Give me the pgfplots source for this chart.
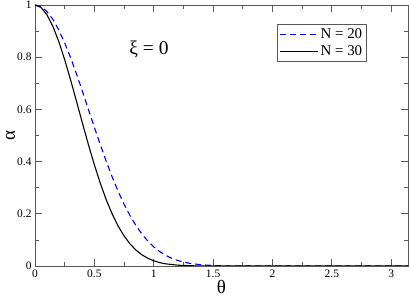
\documentclass[border=0pt]{standalone}
\usepackage{pgfplots}
\pgfplotsset{compat=1.18}
\usepackage{fontspec}
\setmainfont{Liberation Serif}
\definecolor{framegray}{gray}{0.35}
\begin{document}
\begin{tikzpicture}
\begin{axis}[
  name=ax,
  scale only axis,
  width=373bp, height=261bp,
  xmin=0, xmax=3.1416, ymin=0, ymax=1,
  xtick={0,0.5,1,1.5,2,2.5,3},
  xticklabels={0,0.5,1,1.5,2,2.5,3},
  ytick={0,0.2,0.4,0.6,0.8,1},
  yticklabels={0,0.2,0.4,0.6,0.8,1},
  minor x tick num=1, minor y tick num=1,
  major tick length=7bp, minor tick length=4bp,
  tick style={framegray, line width=0.8pt},
  axis line style={framegray, line width=0.9pt},
  tick label style={font=\fontsize{11.5}{13}\selectfont, text=black},
  /pgf/number format/assume math mode=true,
  xlabel={θ}, ylabel={α},
  xlabel style={font=\fontsize{19}{21}\selectfont, at={(axis description cs:0.5,-0.081)}, anchor=center},
  ylabel style={font=\fontsize{19}{21}\selectfont, at={(axis description cs:-0.066,0.5)}, anchor=center},
  legend style={at={(axis description cs:0.649,0.927)}, anchor=north west,
    draw=framegray, line width=0.8pt, font=\fontsize{15}{17}\selectfont,
    inner xsep=2bp, inner ysep=2.5bp, row sep=1bp,
    /tikz/every even column/.append style={column sep=5bp}},
  legend cell align=left,
  legend image code/.code={\draw[#1] (0bp,0bp) -- (38bp,0bp);},
]
\addplot[color=blue, draw=blue, line width=1.1pt, dash pattern=on 6bp off 4bp] coordinates {
(0,1) (0.05,0.99377) (0.1,0.97529) (0.15,0.94526) (0.2,0.90468) (0.25,0.85500)
(0.3,0.79782) (0.35,0.73503) (0.4,0.66850) (0.45,0.60014) (0.5,0.53174)
(0.55,0.46488) (0.6,0.40098) (0.65,0.34116) (0.7,0.28626) (0.75,0.23683)
(0.8,0.19309) (0.85,0.15516) (0.9,0.12277) (0.95,0.09568) (1.0,0.07340)
(1.05,0.0552) (1.1,0.04113) (1.15,0.0299) (1.2,0.02151) (1.25,0.0151) (1.3,0.01045)
(1.4,0.00469) (1.5,0.00193) (1.6,0.00073) (1.8,0.00007) (2.0,0) (2.5,0) (3.1416,0)
};
\addlegendentry{N = 20}
\addplot[color=black, draw=black, line width=1.1pt] coordinates {
(0,1) (0.05,0.99067) (0.1,0.96317) (0.15,0.91902) (0.2,0.86049) (0.25,0.79055)
(0.3,0.71264) (0.35,0.63020) (0.4,0.54658) (0.45,0.46493) (0.5,0.38775)
(0.55,0.31696) (0.6,0.25393) (0.65,0.19927) (0.7,0.15318) (0.75,0.11524)
(0.8,0.08485) (0.85,0.06111) (0.9,0.04304) (0.95,0.02961) (1.0,0.01989)
(1.05,0.0130) (1.1,0.00834) (1.2,0.00316) (1.3,0.00107) (1.4,0.0003) (1.5,0.00009)
(1.7,0) (2.0,0) (2.5,0) (3.1416,0)
};
\addlegendentry{N = 30}
\node[font=\fontsize{19.5}{21}\selectfont] at (axis cs:0.96,0.83) {ξ = 0};
\end{axis}
\pgfresetboundingbox
\path ([shift={(-35bp,-32bp)}]ax.south west) rectangle ([shift={(1bp,5bp)}]ax.north east);
\end{tikzpicture}
\end{document}
